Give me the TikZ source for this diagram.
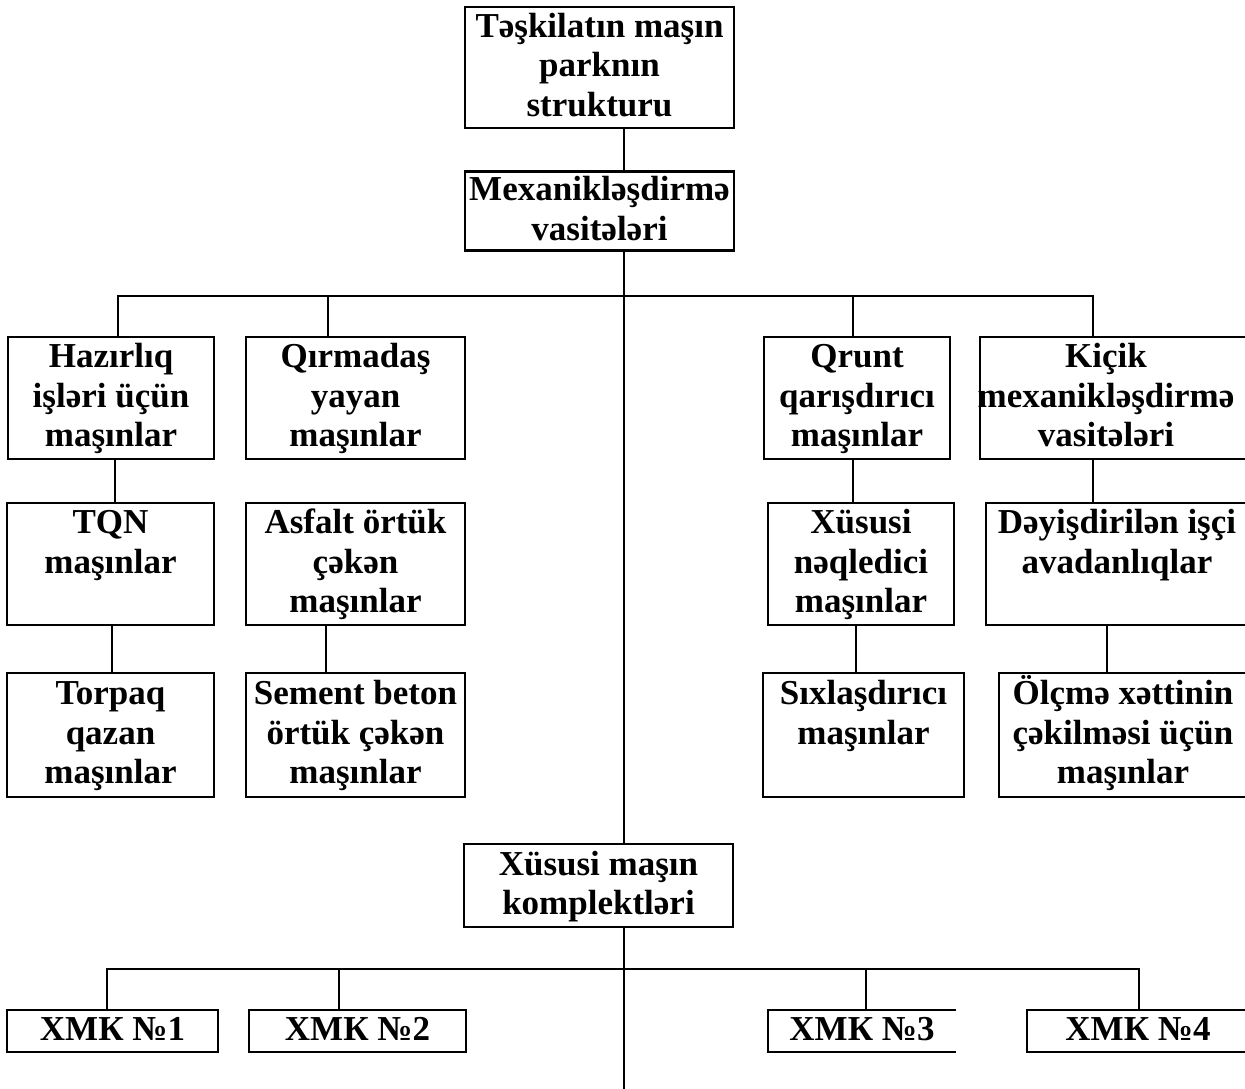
\documentclass[tikz,border=0pt]{standalone}
\usepackage{fontspec}
\setmainfont{Liberation Serif}
\newcommand\st{\vrule height 29bp depth 10.5bp width 0pt}
\begin{document}
\begin{tikzpicture}[x=1bp,y=-1bp,
  box/.style={draw, line width=2.8bp, inner sep=0pt, align=center,
    font=\bfseries\fontsize{35bp}{39.5bp}\selectfont},
  openbox/.style={box, draw=none, outer sep=0pt},
  side/.style={line width=2.8bp},
  link/.style={line width=2.6bp}]
\fill[white] (0,0) rectangle (1245,1089);
\useasboundingbox (0,0) rectangle (1245,1089);
% top levels
\node[box, minimum width=269bp, minimum height=121bp] (top) at (599.5,67.5) {\st Təşkilatın maşın\\\st parknın\\\st strukturu};
\node[box, minimum width=269bp, minimum height=78bp] (mex) at (599.5,211) {\st Mexanikləşdirmə\\\st vasitələri};
% row 1
\node[box, minimum width=206bp, minimum height=122bp] (hz) at (111,398) {\st Hazırlıq\\\st işləri üçün\\\st maşınlar};
\node[box, minimum width=219bp, minimum height=122bp] (qm) at (355.5,398) {\st Qırmadaş\\\st yayan\\\st maşınlar};
\node[box, minimum width=186bp, minimum height=122bp] (qr) at (857,398) {\st Qrunt\\\st qarışdırıcı\\\st maşınlar};
\node[openbox, minimum width=250bp, minimum height=122bp] (kic) at (1106,398) {\st Kiçik\\\st mexanikləşdirmə\\\st vasitələri};
% row 2
\node[box, minimum width=207bp, minimum height=122bp] (tqn) at (110.5,564) {\st TQN\\\st maşınlar\\\st};
\node[box, minimum width=219bp, minimum height=122bp] (asf) at (355.5,564) {\st Asfalt örtük\\\st çəkən\\\st maşınlar};
\node[box, minimum width=186bp, minimum height=122bp] (xn) at (861,564) {\st Xüsusi\\\st nəqledici\\\st maşınlar};
\node[openbox, minimum width=262bp, minimum height=122bp] (dey) at (1117,564) {\st Dəyişdirilən işçi\\\st avadanlıqlar\\\st};
% row 3
\node[box, minimum width=207bp, minimum height=124bp] (tor) at (110.5,735) {\st Torpaq\\\st qazan\\\st maşınlar};
\node[box, minimum width=219bp, minimum height=124bp] (sem) at (355.5,735) {\st Sement beton\\\st örtük çəkən\\\st maşınlar};
\node[box, minimum width=201bp, minimum height=124bp] (six) at (863.5,735) {\st Sıxlaşdırıcı\\\st maşınlar\\\st};
\node[openbox, minimum width=248bp, minimum height=124bp] (olc) at (1123,735) {\st Ölçmə xəttinin\\\st çəkilməsi üçün\\\st maşınlar};
% special complexes
\node[box, minimum width=269bp, minimum height=83bp] (xmk) at (598.5,885.5) {\st Xüsusi maşın\\\st komplektləri};
\node[box, minimum width=211bp, minimum height=42bp] (x1) at (112.5,1031) {\st ХМК №1};
\node[box, minimum width=217bp, minimum height=42bp] (x2) at (357.5,1031) {\st ХМК №2};
\node[openbox, minimum width=188bp, minimum height=42bp] (x3) at (862,1031) {\st ХМК №3};
\node[openbox, minimum width=222bp, minimum height=42bp] (x4) at (1138,1031) {\st ХМК №4};
% open box outlines
\coordinate (R) at (1252,0);
\coordinate (kL) at (980,0);
\coordinate (dL) at (986,0);
\coordinate (oL) at (999,0);
\coordinate (xL) at (1027,0);
\draw[side] (kic.north -| R) -- (kic.north -| kL) -- (kic.south -| kL) -- (kic.south -| R);
\draw[side] (dey.north -| R) -- (dey.north -| dL) -- (dey.south -| dL) -- (dey.south -| R);
\draw[side] (olc.north -| R) -- (olc.north -| oL) -- (olc.south -| oL) -- (olc.south -| R);
\draw[side] (x4.north -| R) -- (x4.north -| xL) -- (x4.south -| xL) -- (x4.south -| R);
\draw[side] (x3.north east) -- (x3.north west) -- (x3.south west) -- (x3.south east);
% spine
\coordinate (sp) at (624,0);
\coordinate (endp) at (624,1089);
\draw[link] (sp |- top.south) -- (sp |- mex.north);
\draw[link] (sp |- mex.south) -- (sp |- xmk.north);
\draw[link] (sp |- xmk.south) -- (endp);
% upper bus
\coordinate (h1) at (118,296);
\coordinate (q1) at (328,296);
\coordinate (r1) at (853,296);
\coordinate (k1) at (1093,296);
\draw[link] (h1 |- hz.north) -- (h1) -- (k1) -- (k1 |- kic.north);
\draw[link] (q1) -- (q1 |- qm.north);
\draw[link] (r1) -- (r1 |- qr.north);
% row 1 to row 2
\coordinate (c1) at (115,0);
\coordinate (c3) at (853,0);
\coordinate (c4) at (1093,0);
\draw[link] (c1 |- hz.south) -- (c1 |- tqn.north);
\draw[link] (c3 |- qr.south) -- (c3 |- xn.north);
\draw[link] (c4 |- kic.south) -- (c4 |- dey.north);
% row 2 to row 3
\coordinate (f1) at (112,0);
\coordinate (f2) at (326,0);
\coordinate (f3) at (856,0);
\coordinate (f4) at (1107,0);
\draw[link] (f1 |- tqn.south) -- (f1 |- tor.north);
\draw[link] (f2 |- asf.south) -- (f2 |- sem.north);
\draw[link] (f3 |- xn.south) -- (f3 |- six.north);
\draw[link] (f4 |- dey.south) -- (f4 |- olc.north);
% lower bus
\coordinate (e1) at (107,969);
\coordinate (e2) at (339,969);
\coordinate (e3) at (866,969);
\coordinate (e4) at (1139,969);
\draw[link] (e1 |- x1.north) -- (e1) -- (e4) -- (e4 |- x4.north);
\draw[link] (e2) -- (e2 |- x2.north);
\draw[link] (e3) -- (e3 |- x3.north);
\end{tikzpicture}
\end{document}
